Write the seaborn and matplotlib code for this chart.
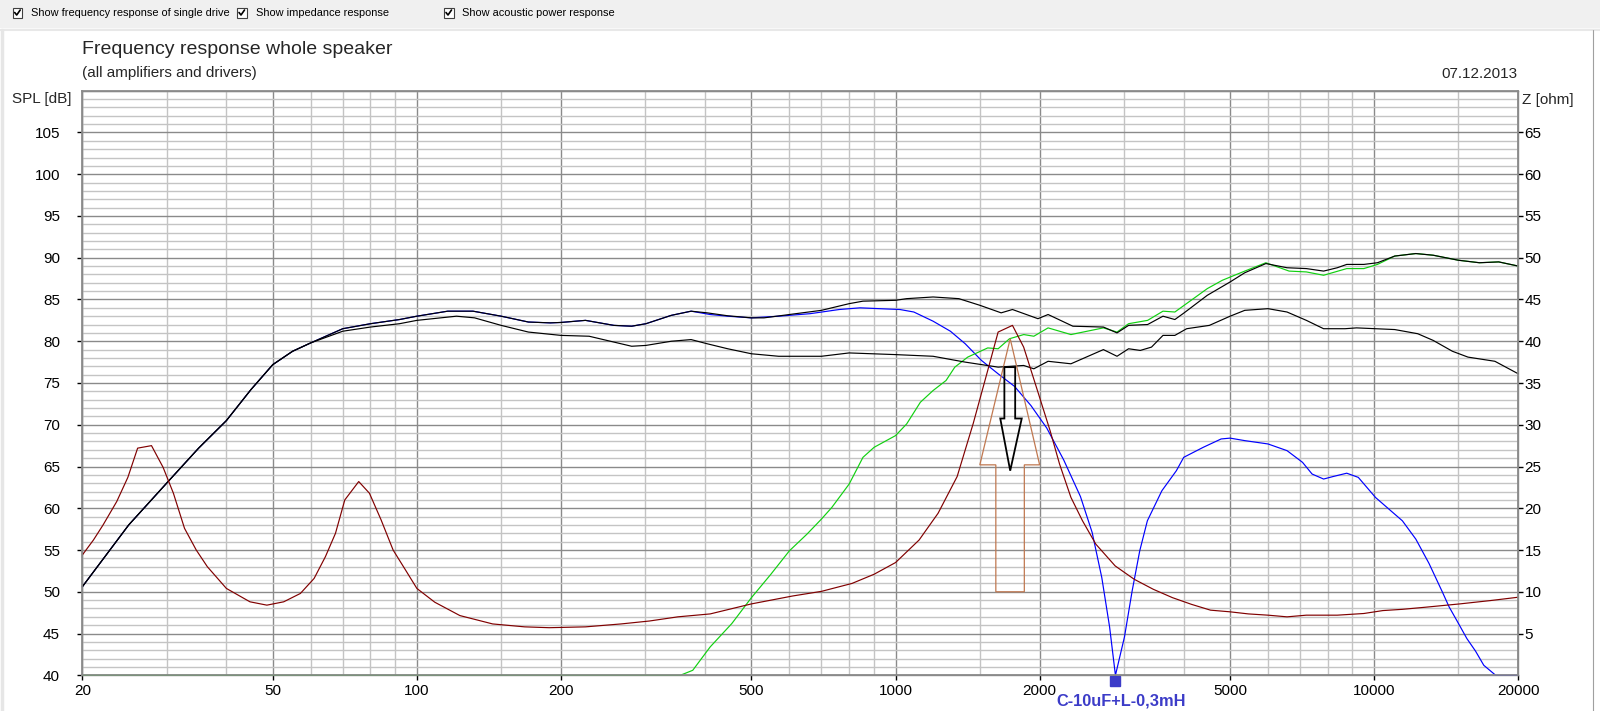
import numpy as np
import pandas as pd
import matplotlib
matplotlib.use("Agg")
import matplotlib.pyplot as plt
from matplotlib.patches import Polygon, Rectangle
from matplotlib.lines import Line2D
from matplotlib.ticker import FixedLocator, NullFormatter
from matplotlib.transforms import offset_copy
import seaborn as sns

# total SPL (upper black)
total_freq = [20, 25, 30, 35, 40, 45, 50, 55, 60, 70, 80, 92, 100, 116, 131, 150, 171, 190, 200, 225,
              258, 281, 301, 340, 374, 404, 446, 500, 531, 600, 700, 800, 855, 1000, 1055, 1198, 1356,
              1501, 1662, 1755, 1984, 2083, 2347, 2718, 2902, 3068, 3362, 3620, 3833, 4008, 4480, 5000,
              5365, 5938, 6575, 7216, 7839, 8372, 8762, 9514, 10158, 11037, 12218, 13281, 14989, 16590,
              18202, 20000]
total_spl = [50.6, 58.0, 63.0, 67.2, 70.5, 74.2, 77.2, 78.8, 79.8, 81.5, 82.1, 82.6, 83.0, 83.6, 83.6,
             83.0, 82.3, 82.2, 82.25, 82.5, 81.9, 81.8, 82.1, 83.1, 83.6, 83.4, 83.05, 82.8, 82.8, 83.2,
             83.7, 84.5, 84.8, 84.9, 85.1, 85.3, 85.1, 84.3, 83.4, 83.8, 82.7, 83.2, 81.8, 81.7, 81.0,
             81.9, 82.0, 83.0, 82.6, 83.4, 85.5, 87.1, 88.2, 89.3, 88.8, 88.7, 88.4, 88.8, 89.2, 89.2,
             89.4, 90.2, 90.5, 90.3, 89.7, 89.4, 89.5, 89.0]

# acoustic power response (lower black)
power_freq = [20, 25, 30, 35, 40, 45, 50, 55, 60, 70, 80, 92, 100, 121, 132, 150, 171, 200, 229, 258,
              281, 301, 340, 374, 404, 446, 500, 570, 700, 800, 1000, 1198, 1398, 1638, 1852, 1945, 2083,
              2325, 2718, 2902, 3068, 3246, 3426, 3620, 3833, 4057, 4526, 5000, 5365, 6000, 6575, 7216,
              7839, 8690, 9185, 11037, 12330, 13281, 14567, 15700, 17870, 20000]
power_spl = [50.6, 58.0, 63.0, 67.2, 70.5, 74.2, 77.2, 78.8, 79.8, 81.2, 81.7, 82.1, 82.5, 83.0, 82.8,
             81.9, 81.1, 80.7, 80.6, 79.9, 79.4, 79.5, 80.0, 80.2, 79.7, 79.1, 78.5, 78.2, 78.2, 78.6,
             78.4, 78.2, 77.5, 76.9, 77.1, 76.7, 77.6, 77.3, 79.0, 78.2, 79.1, 78.9, 79.3, 80.7, 80.7,
             81.5, 81.9, 83.0, 83.7, 83.9, 83.5, 82.5, 81.5, 81.5, 81.6, 81.4, 80.9, 80.1, 78.8, 78.1,
             77.6, 76.1]

# woofer (blue)
woofer_freq = [20, 25, 30, 35, 40, 45, 50, 55, 60, 70, 80, 92, 100, 116, 131, 150, 171, 190, 200, 225,
               258, 281, 301, 340, 374, 410, 446, 500, 570, 663, 763, 843, 970, 1021, 1092, 1198, 1302,
               1398, 1512, 1638, 1772, 1918, 2070, 2245, 2434, 2575, 2697, 2800, 2880, 3008, 3121, 3237,
               3358, 3601, 3861, 4000, 4394, 4789, 5000, 5365, 6000, 6575, 7083, 7417, 7839, 8204, 8762,
               9263, 10061, 10832, 11452, 12218, 13015, 13874, 14335, 15000, 15616, 16280, 16940, 17940,
               20000]
woofer_spl = [50.6, 58.0, 63.0, 67.2, 70.5, 74.2, 77.2, 78.8, 79.8, 81.5, 82.1, 82.6, 83.0, 83.6, 83.6,
              83.0, 82.3, 82.2, 82.25, 82.5, 81.9, 81.8, 82.1, 83.1, 83.6, 83.2, 83.0, 82.8, 83.0, 83.3,
              83.8, 84.0, 83.85, 83.8, 83.5, 82.4, 81.2, 79.7, 77.7, 76.1, 74.6, 72.3, 69.6, 65.8, 61.4,
              57.1, 51.7, 45.8, 40.0, 44.6, 50.1, 54.9, 58.5, 62.1, 64.5, 66.1, 67.3, 68.3, 68.4, 68.1,
              67.7, 66.9, 65.5, 64.1, 63.5, 63.8, 64.2, 63.7, 61.3, 59.7, 58.5, 56.3, 53.4, 50.0, 48.2,
              46.2, 44.4, 42.9, 41.2, 40.0, 40.0]

# tweeter (green)
tweeter_freq = [20, 355, 377, 410, 455, 500, 549, 600, 653, 700, 736, 800, 855, 902, 1000, 1055, 1127,
                1198, 1275, 1330, 1415, 1558, 1638, 1730, 1853, 1945, 2083, 2325, 2718, 2902, 3068, 3362,
                3620, 3833, 4480, 4816, 5365, 5938, 6640, 7216, 7839, 8762, 9514, 10158, 11037, 12218,
                13281, 14989, 16590, 18202, 20000]
tweeter_spl = [40.0, 40.0, 40.6, 43.4, 46.2, 49.3, 52.1, 54.9, 56.9, 58.7, 60.1, 62.9, 66.1, 67.3, 68.7,
               70.1, 72.7, 74.1, 75.3, 76.9, 78.1, 79.2, 79.1, 80.3, 80.8, 80.6, 81.6, 80.8, 81.6, 81.1,
               82.1, 82.5, 83.6, 83.5, 86.3, 87.3, 88.4, 89.4, 88.4, 88.3, 87.9, 88.7, 88.7, 89.2, 90.2,
               90.5, 90.3, 89.7, 89.4, 89.5, 89.0]

# impedance (dark red, right axis, ohm)
imp_freq = [20, 21.1, 22.1, 23.6, 24.9, 26.1, 27.9, 29.5, 31, 32.7, 34.6, 36.5, 40, 44.8, 48.6, 52.7,
            57.1, 61, 64.4, 67.6, 70.7, 75.6, 79.6, 84.2, 89.2, 94.7, 100, 109, 123, 144, 168, 189, 225,
            267, 306, 351, 410, 500, 610, 700, 811, 902, 1000, 1120, 1227, 1345, 1453, 1558, 1638, 1755,
            1852, 1984, 2103, 2201, 2325, 2458, 2621, 2876, 3152, 3455, 3788, 4150, 4550, 5000, 5460,
            6000, 6575, 7216, 8372, 9514, 10424, 11452, 12786, 15098, 17500, 20000]
imp_ohm = [14.4, 16.2, 18.0, 20.8, 23.7, 27.2, 27.5, 24.9, 21.8, 17.6, 15.0, 13.0, 10.4, 8.8, 8.4, 8.8,
           9.8, 11.6, 14.2, 17.0, 21.0, 23.2, 21.8, 18.6, 15.0, 12.6, 10.4, 8.75, 7.15, 6.15, 5.8, 5.7,
           5.8, 6.15, 6.5, 7.0, 7.35, 8.55, 9.5, 10.05, 11.0, 12.1, 13.5, 16.2, 19.4, 23.8, 30.15, 36.5,
           41.1, 41.9, 39.3, 33.9, 29.3, 25.3, 21.3, 18.5, 15.7, 13.1, 11.5, 10.3, 9.3, 8.5, 7.8, 7.6,
           7.35, 7.2, 7.0, 7.2, 7.2, 7.4, 7.75, 7.9, 8.15, 8.55, 8.95, 9.35]

# arrow outlines (freq, dB)
up_arrow = [(1620, 50.0), (1620, 65.2), (1500, 65.2), (1736, 80.3), (2000, 65.2), (1858, 65.2), (1858, 50.0)]
down_arrow = [(1688, 76.9), (1778, 76.9), (1778, 70.75), (1835, 70.75), (1736, 64.5), (1655, 70.75), (1688, 70.75)]

notch_freq = 2880
notch_spl = 40.0
notch_label = "C-10uF+L-0,3mH"

major_freqs = [20, 50, 100, 200, 500, 1000, 2000, 5000, 10000, 20000]
minor_freqs = [30, 40, 60, 70, 80, 90, 150, 300, 400, 600, 700, 800, 900, 1500, 3000, 4000,
               6000, 7000, 8000, 9000, 15000]
spl_ticks = list(range(40, 110, 5))
ohm_ticks = list(range(5, 70, 5))

sns.set_theme(style="white")
plt.rcParams["font.family"] = ["Liberation Sans", "DejaVu Sans"]

W, H = 1600, 711
fig = plt.figure(figsize=(W / 100, H / 100), dpi=100)
fig.patch.set_facecolor("white")

# toolbar strip
fig.patches.append(Rectangle((0, 1 - 28 / H), 1, 28 / H, transform=fig.transFigure,
                             facecolor="#f0f0f0", edgecolor="none", zorder=0))
fig.lines.append(Line2D([0, 1], [1 - 28.5 / H] * 2, transform=fig.transFigure, color="#a0a0a0", lw=0.8))
fig.lines.append(Line2D([0, 1], [1 - 30 / H] * 2, transform=fig.transFigure, color="#e8e8e8", lw=1.5))
fig.lines.append(Line2D([2 / W] * 2, [0, 1 - 30 / H], transform=fig.transFigure, color="#e6e6e6", lw=2.5))
fig.lines.append(Line2D([1593 / W] * 2, [0, 1 - 30 / H], transform=fig.transFigure, color="#a0a0a0", lw=0.8))
for bx, label in [(12.7, "Show frequency response of single drive"),
                  (237, "Show impedance response"),
                  (444, "Show acoustic power response")]:
    fig.patches.append(Rectangle((bx / W, 1 - 17.5 / H), 9.5 / W, 9.5 / H, transform=fig.transFigure,
                                 facecolor="white", edgecolor="#404040", lw=0.8))
    fig.lines.append(Line2D([(bx + 2) / W, (bx + 4) / W, (bx + 7.5) / W],
                            [1 - 12.5 / H, 1 - 15 / H, 1 - 10 / H],
                            transform=fig.transFigure, color="black", lw=1.2))
    fig.text((bx + 18.5) / W, 1 - 13.3 / H, label, fontsize=7.9, va="center", ha="left", color="black")

ax = fig.add_axes([82.3 / W, 1 - 675.3 / H, (1518.3 - 82.3) / W, (675.3 - 90.7) / H])
ax.set_xscale("log")
ax.set_xlim(20, 20000)
ax.set_ylim(40, 110)

ax.xaxis.set_major_locator(FixedLocator(major_freqs))
ax.xaxis.set_minor_locator(FixedLocator(minor_freqs))
ax.xaxis.set_minor_formatter(NullFormatter())
ax.set_xticklabels([str(f) for f in major_freqs])
ax.yaxis.set_major_locator(FixedLocator(spl_ticks))
ax.yaxis.set_minor_locator(FixedLocator(list(range(40, 111))))
ax.set_yticklabels([str(v) for v in spl_ticks])

ax.grid(which="major", color="#8a8a8a", lw=1.0)
ax.grid(which="minor", color="#c4c4c4", lw=1.0)
ax.set_axisbelow(True)
for s in ax.spines.values():
    s.set_color("#8a8a8a")
    s.set_linewidth(1.0)
ax.tick_params(axis="both", which="minor", length=0)
ax.tick_params(axis="x", which="major", length=3.6, width=1, color="black", pad=3,
               labelsize=11, labelcolor="black", direction="out", bottom=True)
ax.tick_params(axis="y", which="major", length=3.6, width=1, color="black", pad=12.4,
               labelsize=11, labelcolor="black", direction="out", left=True)

curves = [
    (pd.DataFrame({"f": woofer_freq, "v": woofer_spl}), "#0000ff"),
    (pd.DataFrame({"f": tweeter_freq, "v": tweeter_spl}), "#10d010"),
    (pd.DataFrame({"f": power_freq, "v": power_spl}), "black"),
    (pd.DataFrame({"f": total_freq, "v": total_spl}), "black"),
]
for df, col in curves:
    sns.lineplot(data=df, x="f", y="v", ax=ax, color=col, lw=0.85, estimator=None,
                 sort=False, clip_on=False, zorder=3)

ax.add_patch(Polygon(up_arrow, closed=True, fill=False, edgecolor="#c07850", lw=0.9, zorder=5))
ax.add_patch(Polygon(down_arrow, closed=True, fill=False, edgecolor="black", lw=1.3, zorder=5))

marker_tr = offset_copy(ax.transData, fig=fig, x=0, y=-5.5, units="dots")
ax.plot([notch_freq], [notch_spl], marker="s", ms=7.2, color="#3c3cc8", clip_on=False, zorder=6,
        transform=marker_tr)
ax.annotate(notch_label, xy=(notch_freq, notch_spl), xytext=(6, -26), textcoords="offset pixels",
            ha="center", va="center", fontsize=11.8, fontweight="bold", color="#3c3cc8",
            annotation_clip=False)
ax.set_xlabel("")
ax.set_ylabel("")

ax2 = ax.twinx()
ax2.set_ylim(0, 70)
ax2.yaxis.set_major_locator(FixedLocator(ohm_ticks))
ax2.set_yticklabels([str(v) for v in ohm_ticks])
ax2.tick_params(axis="y", which="major", length=3.6, width=1, color="black", pad=1,
                labelsize=11, labelcolor="black", direction="out", right=True)
ax2.tick_params(axis="y", which="minor", length=0)
ax2.grid(False)
for s in ax2.spines.values():
    s.set_color("#8a8a8a")
sns.lineplot(data=pd.DataFrame({"f": imp_freq, "z": imp_ohm}), x="f", y="z", ax=ax2,
             color="#800000", lw=0.85, estimator=None, sort=False)
ax2.set_ylabel("")
ax2.set_xlim(20, 20000)

fig.text(82 / W, 1 - 49 / H, "Frequency response whole speaker", fontsize=14, va="center", ha="left")
fig.text(82 / W, 1 - 73.5 / H, "(all amplifiers and drivers)", fontsize=11, va="center", ha="left")
fig.text(1517 / W, 1 - 73.5 / H, "07.12.2013", fontsize=11, va="center", ha="right")
fig.text(12 / W, 1 - 99 / H, "SPL [dB]", fontsize=11, va="center", ha="left")
fig.text(1522 / W, 1 - 100 / H, "Z [ohm]", fontsize=11, va="center", ha="left")

fig.savefig("out.png", dpi=100, facecolor="white")
